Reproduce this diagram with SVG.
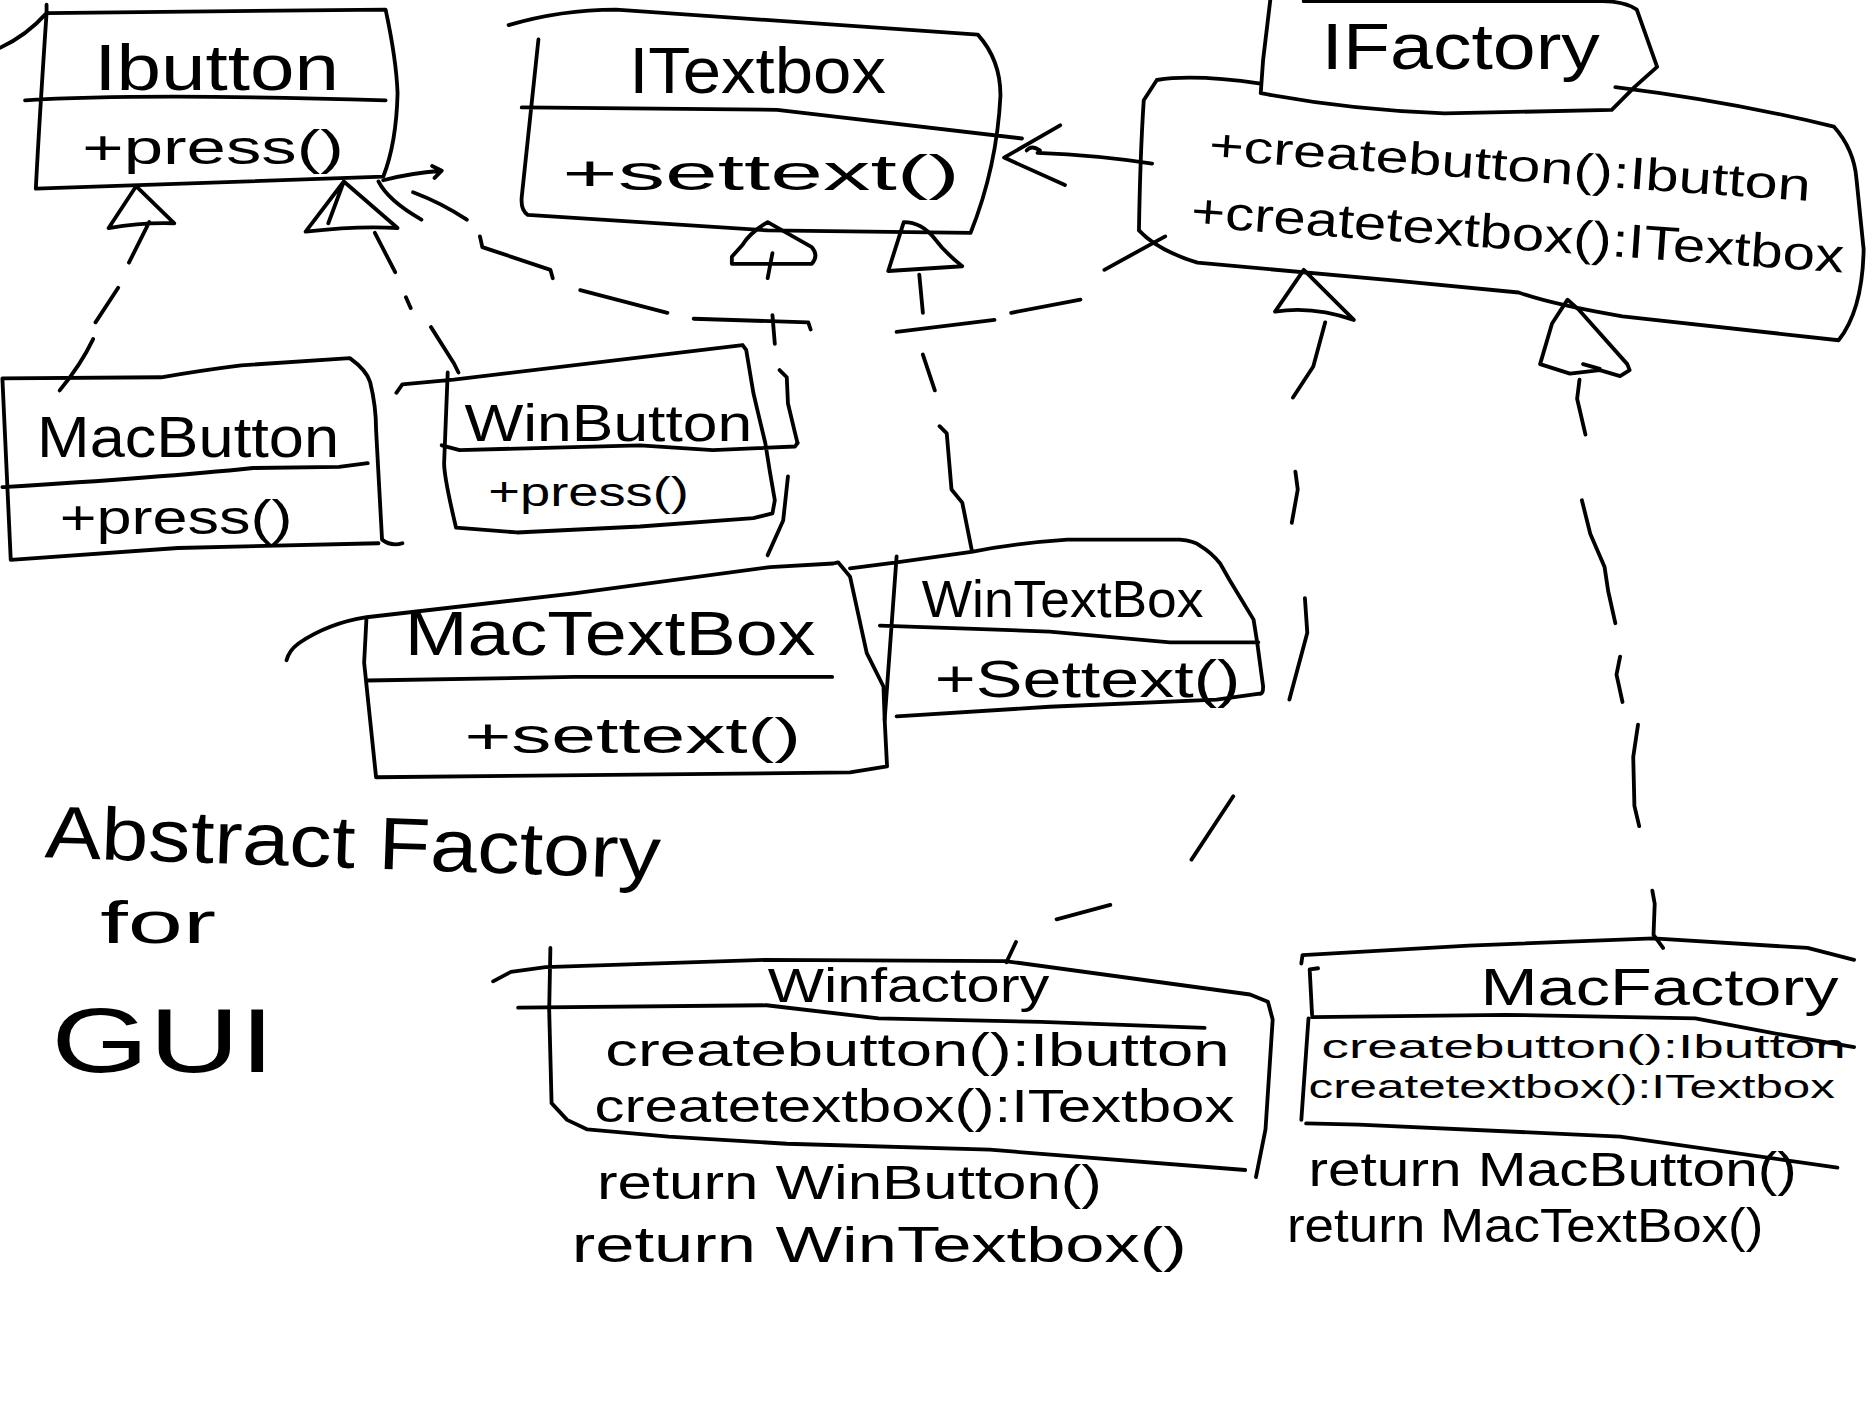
<svg xmlns="http://www.w3.org/2000/svg" width="1872" height="1404" viewBox="0 0 1872 1404">
  <style>
    .ln { fill: none; stroke: #000; stroke-width: 3.2; stroke-linecap: round; stroke-linejoin: round; }
    .tx { font-family: "Liberation Sans", Arial, sans-serif; fill: #000; }
  </style>
  <rect x="0" y="0" width="1872" height="1404" fill="#fff"/>
  <!-- drawing laid out on a 1568x1176 grid, scaled up to the canvas -->
  <g transform="scale(1.19388)">

    <g id="ibutton">
      <path class="ln" d="M0,40 Q22,30 39,11 M39,4 L39,11 L323,8 Q332,50 333,78 Q332,120 321,148 L30,158 Q33,100 39,11 M21,84 Q120,78 323,84"/>
      <text class="tx" x="79" y="75" font-size="54" textLength="205" lengthAdjust="spacingAndGlyphs">Ibutton</text>
      <text class="tx" x="69" y="137" font-size="40" textLength="219" lengthAdjust="spacingAndGlyphs">+press()</text>
    </g>

    <g id="itextbox">
      <path class="ln" d="M426,21 Q470,8 516,8 L819,29 Q838,50 838,80 Q835,140 813,195 Q720,194 643,193 L442,180 Q436,176 437,165 L451,33 M437,90 L651,92 L856,116"/>
      <text class="tx" x="527" y="78" font-size="54" textLength="215" lengthAdjust="spacingAndGlyphs">ITextbox</text>
      <text class="tx" x="471" y="159" font-size="42" textLength="333" lengthAdjust="spacingAndGlyphs">+settext()</text>
    </g>

    <g id="ifactory">
      <path class="ln" d="M1064,0 L1058,50 L1056,78 Q1130,92 1210,95 L1350,92 L1369,73 L1388,56 L1371,8 Q1360,1 1342,1 L1092,1"/>
      <path class="ln" d="M969,67 Q1000,62 1056,70 M1353,73 Q1450,85 1536,106 Q1553,125 1555,150 L1561,209 Q1560,260 1540,285 L1359,265 Q1300,255 1272,245 L1169,235 L1003,220 Q970,210 954,193 Q955,130 958,84 L969,67"/>
      <text class="tx" x="1107" y="58" font-size="54" textLength="233" lengthAdjust="spacingAndGlyphs">IFactory</text>
      <text class="tx" x="1012" y="134" font-size="38" textLength="505" lengthAdjust="spacingAndGlyphs" transform="rotate(3.9 1012 134)">+createbutton():Ibutton</text>
      <text class="tx" x="997" y="190" font-size="40" textLength="548" lengthAdjust="spacingAndGlyphs" transform="rotate(4 997 190)">+createtextbox():ITextbox</text>
    </g>

    <g id="macbutton">
      <path class="ln" d="M2,317 L135,316 Q170,310 202,306 L293,300 Q307,310 310,320 Q315,340 315,360 L320,452 Q328,458 337,455 M317,455 L149,459 L9,469 L2,317 M2,408 Q135,400 212,392 L284,391 L308,388"/>
      <text class="tx" x="31" y="383" font-size="48" textLength="253" lengthAdjust="spacingAndGlyphs">MacButton</text>
      <text class="tx" x="50" y="447" font-size="40" textLength="195" lengthAdjust="spacingAndGlyphs">+press()</text>
    </g>

    <g id="winbutton">
      <path class="ln" d="M332,329 L337,322 L380,318 L622,289 L625,293 L631,329 L635,346 L641,371 L645,396 L649,419 L647,430 L631,434 L536,441 L433,446 L382,442 Q372,400 372,388 L375,312 M370,373 L385,377 L536,373 L597,377 L666,374 L668,371"/>
      <text class="tx" x="389" y="369" font-size="44" textLength="241" lengthAdjust="spacingAndGlyphs">WinButton</text>
      <text class="tx" x="409" y="424" font-size="34" textLength="168" lengthAdjust="spacingAndGlyphs">+press()</text>
    </g>

    <g id="mactextbox">
      <path class="ln" d="M240,553 Q242,545 250,539 Q275,522 307,517 L481,497 L645,475 L698,472 L702,471 L712,483 L726,547 L740,575 L741,603 L743,642 L712,647 L315,651 L305,555 L307,517 M307,570 L481,567 L697,567"/>
      <text class="tx" x="339" y="549" font-size="52" textLength="344" lengthAdjust="spacingAndGlyphs">MacTextBox</text>
      <text class="tx" x="389" y="631" font-size="42" textLength="282" lengthAdjust="spacingAndGlyphs">+settext()</text>
    </g>

    <g id="wintextbox">
      <path class="ln" d="M712,476 L751,471 L815,462 Q850,455 894,452 L988,452 Q1000,453 1005,457 Q1015,463 1022,472 L1030,486 L1050,519 L1053,538 L1058,575 Q1058,582 1055,581 L1019,586 L879,592 L751,600 M751,466 L741,603 M737,524 L879,529 L980,538 L1054,538"/>
      <text class="tx" x="772" y="517" font-size="44" textLength="236" lengthAdjust="spacingAndGlyphs">WinTextBox</text>
      <text class="tx" x="783" y="584" font-size="44" textLength="256" lengthAdjust="spacingAndGlyphs">+Settext()</text>
    </g>

    <g id="winfactory">
      <path class="ln" d="M413,822 L428,814 L457,810 L642,804 L842,805 L1047,833 L1062,839 L1066,854 L1060,946 L1052,986 M1043,980 L829,963 L659,958 L560,952 L492,946 L475,938 L462,924 L460,846 L461,794 M434,844 L642,842 L736,853 L872,856 L1009,861"/>
      <text class="tx" x="643" y="839" font-size="40" textLength="236" lengthAdjust="spacingAndGlyphs">Winfactory</text>
      <text class="tx" x="507" y="893" font-size="38" textLength="523" lengthAdjust="spacingAndGlyphs">createbutton():Ibutton</text>
      <text class="tx" x="498" y="940" font-size="38" textLength="536" lengthAdjust="spacingAndGlyphs">createtextbox():ITextbox</text>
      <text class="tx" x="500" y="1004" font-size="40" textLength="423" lengthAdjust="spacingAndGlyphs">return WinButton()</text>
      <text class="tx" x="479" y="1057" font-size="42" textLength="515" lengthAdjust="spacingAndGlyphs">return WinTextbox()</text>
    </g>

    <g id="macfactory">
      <path class="ln" d="M1090,807 L1091,800 L1230,792 L1385,786 L1514,794 L1553,804 M1104,811 L1097,812 L1099,850 M1099,852 L1261,850 L1420,853 L1483,865 L1553,877 M1096,853 L1090,938 M1094,941 L1138,942 L1357,952 L1539,978"/>
      <text class="tx" x="1240" y="842" font-size="44" textLength="300" lengthAdjust="spacingAndGlyphs">MacFactory</text>
      <text class="tx" x="1107" y="886" font-size="28" textLength="439" lengthAdjust="spacingAndGlyphs">createbutton():Ibutton</text>
      <text class="tx" x="1096" y="920" font-size="28" textLength="441" lengthAdjust="spacingAndGlyphs">createtextbox():ITextbox</text>
      <text class="tx" x="1096" y="993" font-size="40" textLength="409" lengthAdjust="spacingAndGlyphs">return MacButton()</text>
      <text class="tx" x="1078" y="1040" font-size="40" textLength="399" lengthAdjust="spacingAndGlyphs">return MacTextBox()</text>
    </g>

    <g id="title">
      <text class="tx" x="37" y="718" font-size="62" textLength="516" lengthAdjust="spacingAndGlyphs" transform="rotate(2 37 718)">Abstract Factory</text>
      <text class="tx" x="84" y="790" font-size="50" textLength="97" lengthAdjust="spacingAndGlyphs">for</text>
      <text class="tx" x="43" y="898" font-size="76" textLength="187" lengthAdjust="spacingAndGlyphs">GUI</text>
    </g>

    <g id="connectors">
      <!-- MacButton realizes IButton -->
      <path class="ln" d="M114,156 L91,191 Q120,186 146,187 Z M125,186 L108,220 M99,241 L80,270 M78,284 Q68,305 50,327"/>
      <!-- WinButton realizes IButton -->
      <path class="ln" d="M288,152 L256,194 Q300,189 333,191 Z M288,152 L275,187 M314,195 L331,228 M340,249 L344,258 M361,274 L380,304 L384,312"/>
      <!-- IFactory depends on IButton -->
      <path class="ln" d="M321,151 Q343,145 370,143 M362,139 L370,143 L364,149 M317,152 Q325,168 353,184 M346,161 Q370,170 391,184 M402,198 L404,207 L461,226 L463,233 M486,243 L559,262 M581,267 L677,270 L679,276 M751,278 L833,268 M847,262 L905,251 M925,226 L976,198"/>
      <!-- IFactory depends on ITextbox -->
      <path class="ln" d="M869,128 Q920,130 965,137 M888,105 L841,132 L892,155 M860,126 Q864,121 871,126"/>
      <!-- MacTextBox realizes ITextbox -->
      <path class="ln" d="M643,186 Q628,195 622,205 L613,215 L613,221 L680,221 Q686,214 680,207 L643,186 Z M647,212 L643,233 M647,264 L649,288 M653,310 L659,316 L660,338 L666,363 L668,371 M660,399 L656,436 L643,465"/>
      <!-- WinTextBox realizes ITextbox -->
      <path class="ln" d="M757,186 L744,227 L806,223 Q792,212 783,200 Q772,186 757,186 Z M770,230 L773,262 M773,297 L783,327 M787,357 L793,363 L797,410 L806,421 L814,461"/>
      <!-- WinFactory realizes IFactory -->
      <path class="ln" d="M1092,226 L1068,261 Q1100,256 1134,268 Z M1110,270 L1100,307 L1083,333 M1085,395 L1087,410 L1082,438 M1093,501 L1095,530 L1080,586 M1033,667 L998,720 M930,758 L885,770 M851,789 L843,806"/>
      <!-- MacFactory realizes IFactory -->
      <path class="ln" d="M1313,251 L1300,271 L1290,305 L1315,313 L1340,310 L1357,315 L1365,310 L1363,305 L1323,260 Z M1326,305 L1340,309 M1323,318 L1321,334 L1328,364 M1325,419 L1332,447 L1344,475 L1347,495 L1353,522 M1357,550 L1354,565 L1359,588 M1372,607 L1368,634 L1369,675 L1373,692 M1384,746 L1386,757 L1385,783 L1393,794"/>
    </g>
  </g>
</svg>
